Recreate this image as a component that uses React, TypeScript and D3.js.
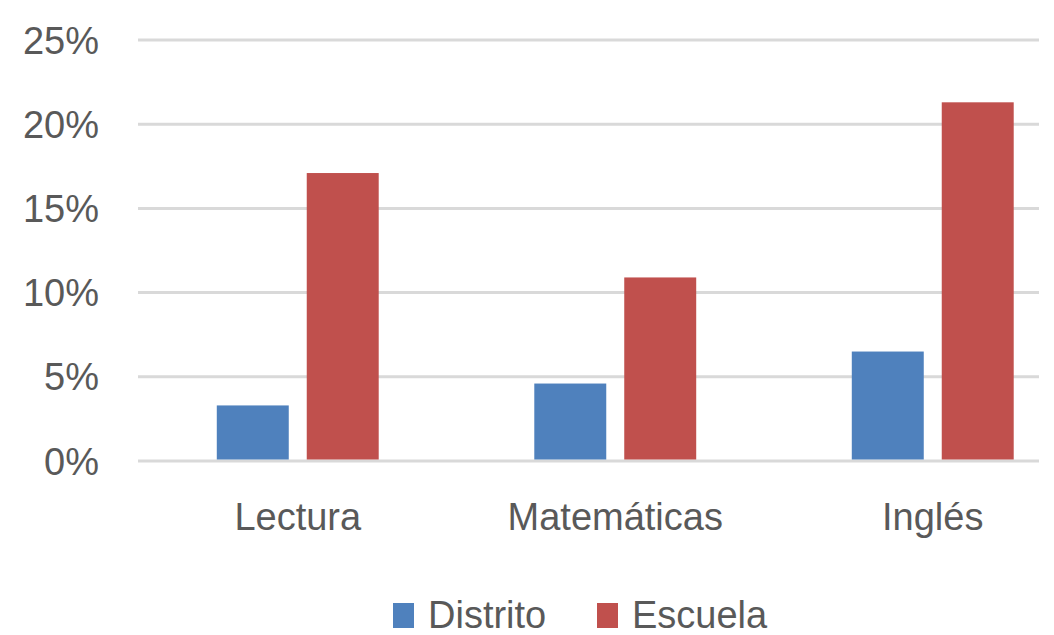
import React from "react";
import * as d3 from "d3";

const categories = ["Lectura", "Matemáticas", "Inglés"];
const seriesNames = ["Distrito", "Escuela"];
const distrito = [3.3, 4.6, 6.5];
const escuela = [17.1, 10.9, 21.3];
const yTicks = [0, 5, 10, 15, 20, 25];

const colors = ["#4F81BD", "#C0504D"];
const textColor = "#595959";
const font = "'Liberation Sans', Arial, sans-serif";

const App = () => {
  const width = 1054;
  const height = 635;

  // plot area (the chart appears cropped on the right, so bands run past the grid)
  const left = 139;
  const gridRight = 1039;
  const top = 40;
  const bottom = 461;
  const step = 317.5;

  const y = d3.scaleLinear().domain([0, 25]).range([bottom, top]);

  const x0 = d3
    .scaleBand<string>()
    .domain(categories)
    .range([left, left + step * categories.length])
    .paddingInner(0.49)
    .paddingOuter(0.245);

  const x1 = d3
    .scaleBand<string>()
    .domain(seriesNames)
    .range([0, x0.bandwidth()])
    .paddingInner(0.2);

  const values = [distrito, escuela];

  return (
    <svg
      width={width}
      height={height}
      style={{ position: "absolute", left: 0, top: 0, background: "#fff" }}
    >
      {/* gridlines */}
      {yTicks.map((t) => (
        <line
          key={t}
          x1={left - 1}
          x2={gridRight}
          y1={y(t)}
          y2={y(t)}
          stroke="#D9D9D9"
          strokeWidth={3}
        />
      ))}

      {/* y tick labels */}
      {yTicks.map((t) => (
        <text
          key={"l" + t}
          x={99}
          y={y(t)}
          dy="0.36em"
          textAnchor="end"
          fontFamily={font}
          fontSize={38}
          fill={textColor}
        >
          {t}%
        </text>
      ))}

      {/* bars */}
      {categories.map((c, i) => (
        <g key={c} transform={`translate(${x0(c)},0)`}>
          {seriesNames.map((s, j) => (
            <rect
              key={s}
              x={x1(s)}
              y={y(values[j][i])}
              width={x1.bandwidth()}
              height={bottom - y(values[j][i]) - 1.5}
              fill={colors[j]}
            />
          ))}
        </g>
      ))}

      {/* category labels */}
      {categories.map((c) => (
        <text
          key={"c" + c}
          x={(x0(c) ?? 0) + x0.bandwidth() / 2}
          y={530}
          textAnchor="middle"
          fontFamily={font}
          fontSize={38}
          fill={textColor}
        >
          {c}
        </text>
      ))}

      {/* legend */}
      {seriesNames.map((s, j) => {
        const lx = j === 0 ? 393 : 597;
        return (
          <g key={"lg" + s}>
            <rect x={lx} y={603} width={21} height={25} fill={colors[j]} />
            <text
              x={lx + 35}
              y={628}
              fontFamily={font}
              fontSize={38}
              fill={textColor}
            >
              {s}
            </text>
          </g>
        );
      })}
    </svg>
  );
};

export default App;
